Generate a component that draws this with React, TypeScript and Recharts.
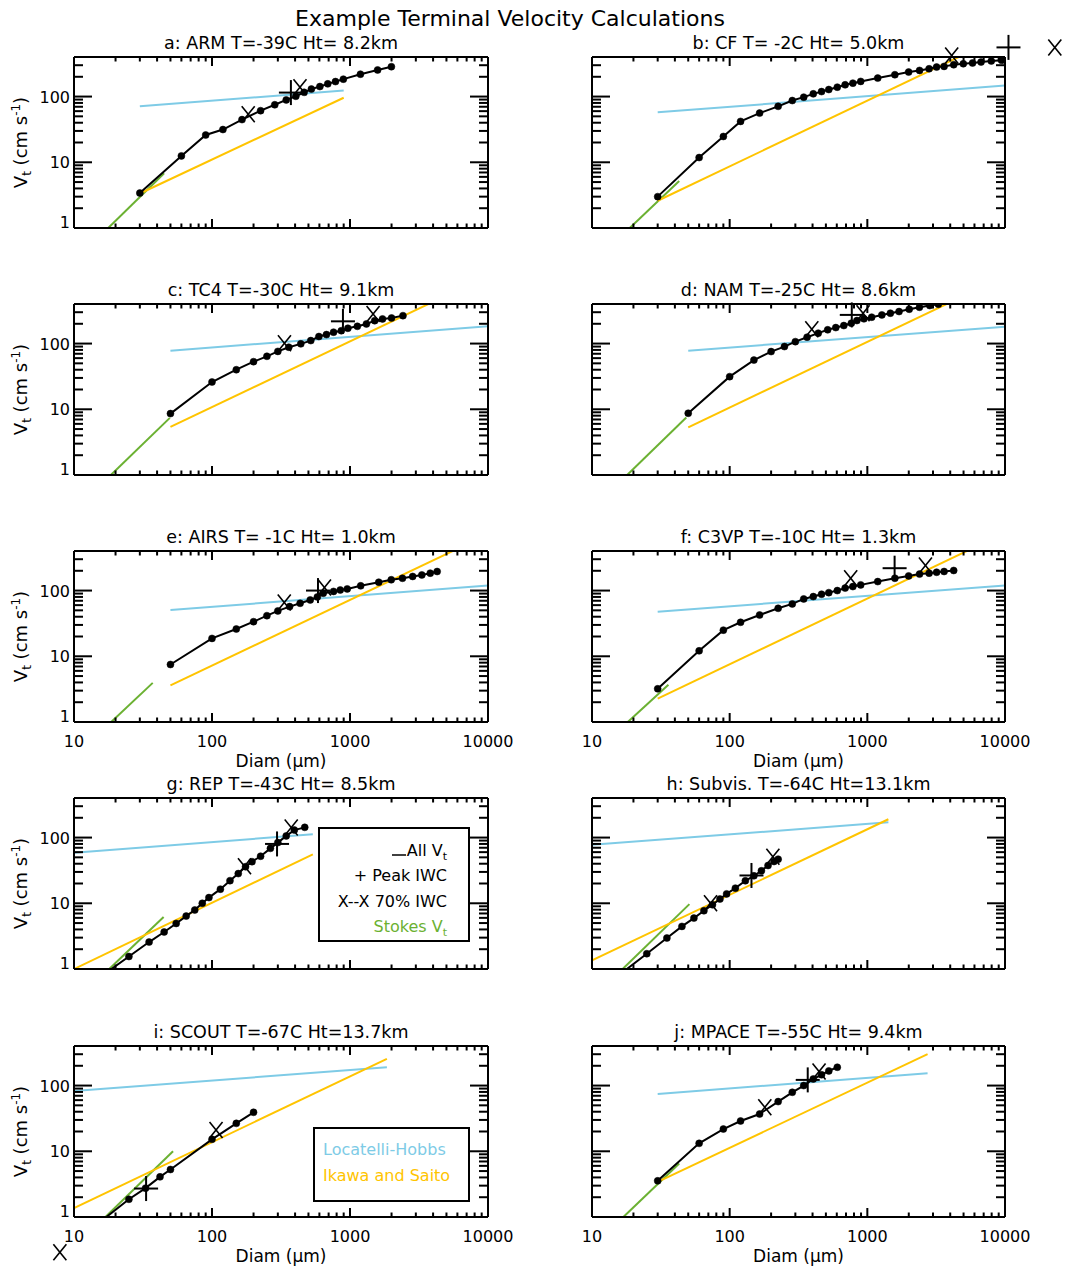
import React from "react";
import { LineChart, Line, XAxis, YAxis, ReferenceDot, Legend } from "recharts";

const FONT = "'DejaVu Sans', Verdana, sans-serif";
const BLUE = "#7ECBE6";
const GOLD = "#FFC400";
const GREEN = "#6BB132";

// axis ticks (log decades with minor ticks, IDL style)
const X_TICKS = [10, 20, 30, 40, 50, 60, 70, 80, 90, 100, 200, 300, 400, 500, 600, 700, 800, 900,
  1000, 2000, 3000, 4000, 5000, 6000, 7000, 8000, 9000, 10000];
const X_LABELS = [10, 100, 1000, 10000];
const Y_TICKS = [1, 2, 3, 4, 5, 6, 7, 8, 9, 10, 20, 30, 40, 50, 60, 70, 80, 90, 100, 200, 300];
const Y_LABELS = [1, 10, 100];

// a: ARM
const DIAM_A = [30, 60, 90, 120, 165, 225, 285, 345, 405, 465, 525, 605, 690, 785, 895, 1190, 1585, 1995];
const VT_A = [3.4, 12.5, 26, 31.5, 44.6, 61, 75, 89, 101, 116, 130, 142, 156, 169, 184, 219, 254, 285];
const LH_A = [[30, 71], [900, 124]];
const IS_A = [[30, 3.35], [900, 96]];
const ST_A = [[17.7, 1], [45, 6.8]];
const PEAK_A = [[373, 115]];
const X70_A = [[183, 54], [434, 139]];

// b: CF
const DIAM_B = [30, 60, 90, 120, 165, 225, 285, 345, 405, 465, 525, 605, 690, 785, 895, 1190, 1585, 1995,
  2395, 2810, 3185, 3610, 4240, 4980, 5810, 6700, 7950, 9440];
const VT_B = [3.0, 11.8, 24.7, 41.9, 56, 71, 87, 98, 110, 119, 128, 139, 151, 160, 170, 191, 215, 236,
  250, 265, 281, 288, 305, 316, 324, 335, 348, 356];
const LH_B = [[30, 57.5], [10000, 147]];
const IS_B = [[30, 2.6], [5000, 433]];
const ST_B = [[18.8, 1], [43, 5.2]];
const PEAK_B = [[10600, 560]];
const X70_B = [[4100, 420], [23000, 560]];

// c: TC4
const DIAM_C = [50, 100, 150, 200, 250, 300, 360, 440, 520, 595, 675, 760, 865, 965, 1130, 1315, 1510, 1720, 2000, 2420];
const VT_C = [8.6, 26, 40, 53, 64, 76, 88, 99, 111, 128, 137, 149, 157, 171, 183, 199, 223, 237, 245, 266];
const LH_C = [[50, 78], [10000, 183]];
const IS_C = [[50, 5.4], [4000, 432]];
const ST_C = [[18.5, 1], [49.5, 7.4]];
const PEAK_C = [[889, 218]];
const X70_C = [[335, 101], [1470, 281]];

// d: NAM
const DIAM_D = [50, 100, 150, 200, 250, 300, 365, 440, 515, 590, 675, 765, 840, 945, 1075, 1275, 1470, 1700,
  2015, 2390, 2840, 3280];
const VT_D = [8.7, 31.4, 56, 75.5, 90, 107, 125, 144, 162, 175, 188, 204, 224, 238, 252, 273, 290, 307,
  333, 357, 379, 397];
const LH_D = [[50, 78], [10000, 181]];
const IS_D = [[50, 5.3], [4000, 424]];
const ST_D = [[18, 1], [48.4, 7.5]];
const PEAK_D = [[771, 273]];
const X70_D = [[395, 165], [931, 290]];

// e: AIRS
const DIAM_E = [50, 100, 150, 200, 250, 300, 365, 435, 515, 580, 640, 760, 850, 955, 1195, 1615, 1990, 2400,
  2845, 3315, 3815, 4280];
const VT_E = [7.5, 18.7, 26, 33.6, 41.5, 49, 57, 64, 72, 80, 91, 97, 102, 106, 118, 134, 146, 154,
  164, 173, 184, 195];
const LH_E = [[50, 50.7], [10000, 119]];
const IS_E = [[50, 3.6], [6000, 432]];
const ST_E = [[18.6, 1], [37.2, 3.94]];
const PEAK_E = [[586, 100]];
const X70_E = [[334, 66], [653, 111]];

// f: C3VP
const DIAM_F = [30, 60, 90, 120, 165, 225, 285, 345, 405, 465, 525, 605, 690, 785, 895, 1190, 1585, 1995,
  2395, 2810, 3185, 3610, 4240];
const VT_F = [3.2, 12.1, 25, 32.9, 42.5, 53.7, 62.6, 74.6, 81, 88, 93, 100, 109, 115, 122, 137, 154, 167,
  178, 184, 190, 195, 202];
const LH_F = [[30, 47.8], [10000, 119]];
const IS_F = [[30, 2.27], [6000, 454]];
const ST_F = [[18.2, 1], [35.9, 3.7]];
const PEAK_F = [[1578, 219]];
const X70_F = [[757, 154], [2642, 241]];

// g: REP
const DIAM_G = [15, 25, 35, 45, 55, 65, 75, 85, 95, 115, 135, 155, 175, 195, 225, 265, 300, 345, 395, 470];
const VT_G = [0.72, 1.55, 2.57, 3.66, 4.93, 6.38, 7.9, 10, 12.2, 16.4, 22.1, 28.3, 36, 43, 52, 68.5, 83.8, 106, 130, 143];
const LH_G = [[10, 58.8], [538, 112]];
const IS_G = [[10, 1.0], [538, 55.4]];
const ST_G = [[18, 1], [44.6, 6.2]];
const PEAK_G = [[296, 80]];
const X70_G = [[172, 36.6], [375, 142]];

// h: Subvis.
const DIAM_H = [15, 25, 35, 45, 55, 65, 75, 85, 95, 110, 130, 150, 170, 190, 210, 225];
const VT_H = [0.75, 1.71, 2.96, 4.45, 5.95, 7.7, 9.5, 11.6, 13.9, 17, 22, 26.2, 31.2, 37.6, 43.2, 46.9];
const LH_H = [[10, 77.4], [1422, 171]];
const IS_H = [[10, 1.35], [1422, 190]];
const ST_H = [[16.7, 1], [51, 9.7]];
const PEAK_H = [[144, 26.5]];
const X70_H = [[72.6, 10], [206, 51]];

// i: SCOUT
const DIAM_I = [15, 25, 33, 42, 50, 100, 150, 200];
const VT_I = [0.8, 1.86, 2.75, 4.08, 5.28, 15.2, 26.6, 39.2];
const LH_I = [[10, 83], [1850, 190]];
const IS_I = [[10, 1.37], [1850, 255]];
const ST_I = [[16.9, 1], [52.2, 10]];
const PEAK_I = [[33.3, 2.71]];
const X70_I = [[107, 21], [7.9, 0.29]];

// j: MPACE
const DIAM_J = [30, 60, 90, 120, 165, 225, 285, 345, 405, 465, 525, 605];
const VT_J = [3.55, 13.2, 21.8, 28.9, 36.9, 57, 79, 100, 126, 146, 167, 190];
const LH_J = [[30, 74.6], [2740, 154]];
const IS_J = [[30, 3.42], [2740, 301]];
const ST_J = [[16.9, 1], [43, 6.5]];
const PEAK_J = [[369, 122]];
const X70_J = [[180, 46.7], [446, 164]];

const PANELS = [
  { title: "a: ARM T=-39C Ht= 8.2km", diam: DIAM_A, vt: VT_A, lh: LH_A, is: IS_A, st: ST_A, peak: PEAK_A, x70: X70_A },
  { title: "b: CF T= -2C Ht= 5.0km", diam: DIAM_B, vt: VT_B, lh: LH_B, is: IS_B, st: ST_B, peak: PEAK_B, x70: X70_B },
  { title: "c: TC4 T=-30C Ht= 9.1km", diam: DIAM_C, vt: VT_C, lh: LH_C, is: IS_C, st: ST_C, peak: PEAK_C, x70: X70_C },
  { title: "d: NAM T=-25C Ht= 8.6km", diam: DIAM_D, vt: VT_D, lh: LH_D, is: IS_D, st: ST_D, peak: PEAK_D, x70: X70_D },
  { title: "e: AIRS T= -1C Ht= 1.0km", diam: DIAM_E, vt: VT_E, lh: LH_E, is: IS_E, st: ST_E, peak: PEAK_E, x70: X70_E },
  { title: "f: C3VP T=-10C Ht= 1.3km", diam: DIAM_F, vt: VT_F, lh: LH_F, is: IS_F, st: ST_F, peak: PEAK_F, x70: X70_F },
  { title: "g: REP T=-43C Ht= 8.5km", diam: DIAM_G, vt: VT_G, lh: LH_G, is: IS_G, st: ST_G, peak: PEAK_G, x70: X70_G },
  { title: "h: Subvis. T=-64C Ht=13.1km", diam: DIAM_H, vt: VT_H, lh: LH_H, is: IS_H, st: ST_H, peak: PEAK_H, x70: X70_H },
  { title: "i: SCOUT T=-67C Ht=13.7km", diam: DIAM_I, vt: VT_I, lh: LH_I, is: IS_I, st: ST_I, peak: PEAK_I, x70: X70_I },
  { title: "j: MPACE T=-55C Ht= 9.4km", diam: DIAM_J, vt: VT_J, lh: LH_J, is: IS_J, st: ST_J, peak: PEAK_J, x70: X70_J },
];

// page layout of the plot boxes
const COL_X = [74, 592];
const COL_W = [414, 413];
const ROW_Y = [57, 304, 551, 798, 1046];
const PLOT_H = 171;
const M_TOP = 50;
const M_BOT = 62;
const CHART_W = 533;

const pairs = (xs: number[], ys: number[]) => xs.map((x, i) => ({ x, y: ys[i] }));
const seg = (pts: number[][]) => pts.map(([x, y]) => ({ x, y }));

const txt = { fontFamily: FONT, fill: "#000" };

const bottomTick = (labels: boolean) => (props: any) => {
  const { x, y, payload } = props;
  const major = X_LABELS.includes(payload.value);
  return (
    <g>
      <line x1={x} y1={y} x2={x} y2={y - (major ? 9 : 4.5)} stroke="#000" strokeWidth={2} />
      {labels && major ? (
        <text x={x} y={y + 25} textAnchor="middle" fontSize={16} {...txt}>{payload.value}</text>
      ) : null}
    </g>
  );
};

const topTick = (props: any) => {
  const { x, y, payload } = props;
  const major = X_LABELS.includes(payload.value);
  return <line x1={x} y1={y} x2={x} y2={y + (major ? 9 : 4.5)} stroke="#000" strokeWidth={2} />;
};

const leftTick = (labels: boolean) => (props: any) => {
  const { x, y, payload } = props;
  const major = Y_LABELS.includes(payload.value);
  return (
    <g>
      <line x1={x} y1={y} x2={x + (major ? 18 : 9)} y2={y} stroke="#000" strokeWidth={2} />
      {labels && major ? (
        <text x={x - 4} y={payload.value === 1 ? y - 0.5 : y + 6} textAnchor="end" fontSize={16} {...txt}>
          {payload.value}
        </text>
      ) : null}
    </g>
  );
};

const rightTick = (props: any) => {
  const { x, y, payload } = props;
  const major = Y_LABELS.includes(payload.value);
  return <line x1={x} y1={y} x2={x - (major ? 18 : 9)} y2={y} stroke="#000" strokeWidth={2} />;
};

const PlusMark = (props: any) => {
  const { cx, cy } = props;
  return (
    <g>
      <line x1={cx - 12} y1={cy} x2={cx + 12} y2={cy} stroke="#000" strokeWidth={2} />
      <line x1={cx} y1={cy - 12.5} x2={cx} y2={cy + 12.5} stroke="#000" strokeWidth={2} />
    </g>
  );
};

const CrossMark = (props: any) => {
  const { cx, cy } = props;
  return (
    <g>
      <line x1={cx - 6.5} y1={cy - 8} x2={cx + 6.5} y2={cy + 8} stroke="#000" strokeWidth={1.6} />
      <line x1={cx + 6.5} y1={cy - 8} x2={cx - 6.5} y2={cy + 8} stroke="#000" strokeWidth={1.6} />
    </g>
  );
};

function SymbolLegend() {
  return (
    <svg width={152} height={115} style={{ display: "block" }}>
      <rect x={1} y={1} width={150} height={113} fill="none" stroke="#000" strokeWidth={2} />
      <line x1={74} y1={28} x2={88} y2={28} stroke="#000" strokeWidth={1.5} />
      <text x={129} y={29} textAnchor="end" fontSize={16} {...txt}>
        All V<tspan fontSize={11} dy={4}>t</tspan>
      </text>
      <text x={129} y={54} textAnchor="end" fontSize={16} {...txt}>+ Peak IWC</text>
      <text x={129} y={79.5} textAnchor="end" fontSize={16} {...txt}>X--X 70% IWC</text>
      <text x={129} y={105} textAnchor="end" fontSize={16} fontFamily={FONT} fill={GREEN}>
        Stokes V<tspan fontSize={11} dy={4}>t</tspan>
      </text>
    </svg>
  );
}

function FitLegend() {
  return (
    <svg width={157} height={75} style={{ display: "block" }}>
      <rect x={1} y={1} width={155} height={73} fill="none" stroke="#000" strokeWidth={2} />
      <text x={10} y={28} fontSize={16} fontFamily={FONT} fill={BLUE}>Locatelli-Hobbs</text>
      <text x={10} y={54} fontSize={16} fontFamily={FONT} fill={GOLD}>Ikawa and Saito</text>
    </svg>
  );
}

function Panel({ idx }: { idx: number }) {
  const p = PANELS[idx];
  const col = idx % 2;
  const row = Math.floor(idx / 2);
  const left = col * CHART_W;
  const top = ROW_Y[row] - M_TOP;
  const mLeft = COL_X[col] - left;
  const mRight = CHART_W - mLeft - COL_W[col];
  const height = M_TOP + PLOT_H + M_BOT;
  const cx = mLeft + COL_W[col] / 2;
  const yLabels = col === 0;
  const xLabels = row === 2 || row === 4;

  const titleLabel = () => (
    <text x={cx} y={M_TOP - 8} textAnchor="middle" fontSize={17.5} style={{ whiteSpace: "pre" }} {...txt}>
      {p.title}
    </text>
  );
  const xTitle = () =>
    xLabels ? (
      <text x={cx} y={M_TOP + PLOT_H + 45} textAnchor="middle" fontSize={17} {...txt}>
        Diam (μm)
      </text>
    ) : null;
  const yTitle = () => {
    if (!yLabels) return null;
    const yc = M_TOP + PLOT_H / 2;
    return (
      <text x={27} y={yc} transform={`rotate(-90 27 ${yc})`} textAnchor="middle" fontSize={18} {...txt}>
        V<tspan fontSize={12} dy={4}>t</tspan>
        <tspan dy={-4}> (cm s</tspan>
        <tspan fontSize={12} dy={-7}>-1</tspan>
        <tspan dy={7}>)</tspan>
      </text>
    );
  };

  const axisLine = { stroke: "#000", strokeWidth: 2 };

  // axes get a 1px band (recharts skips zero-size axes), taken out of the margins
  return (
    <div style={{ position: "absolute", left, top }}>
      <LineChart width={CHART_W} height={height}
        margin={{ top: M_TOP - 1, right: mRight - 1, bottom: M_BOT - 1, left: mLeft - 1 }}>
        <XAxis xAxisId="b" type="number" dataKey="x" scale="log" domain={[10, 10000]} allowDataOverflow
          ticks={X_TICKS} interval={0} height={1} tickSize={0} tickMargin={0} tickLine={false}
          axisLine={axisLine} tick={bottomTick(xLabels)} label={xTitle} />
        <XAxis xAxisId="t" orientation="top" type="number" dataKey="x" scale="log" domain={[10, 10000]} allowDataOverflow
          ticks={X_TICKS} interval={0} height={1} tickSize={0} tickMargin={0} tickLine={false}
          axisLine={axisLine} tick={topTick} label={titleLabel} />
        <YAxis yAxisId="l" type="number" scale="log" domain={[1, 400]} allowDataOverflow
          ticks={Y_TICKS} interval={0} width={1} tickSize={0} tickMargin={0} tickLine={false}
          axisLine={axisLine} tick={leftTick(yLabels)} label={yTitle} />
        <YAxis yAxisId="r" orientation="right" type="number" scale="log" domain={[1, 400]} allowDataOverflow
          ticks={Y_TICKS} interval={0} width={1} tickSize={0} tickMargin={0} tickLine={false}
          axisLine={axisLine} tick={rightTick} />
        <Line xAxisId="b" yAxisId="l" data={seg(p.st)} dataKey="y" stroke={GREEN} strokeWidth={2}
          dot={false} isAnimationActive={false} />
        <Line xAxisId="b" yAxisId="l" data={seg(p.lh)} dataKey="y" stroke={BLUE} strokeWidth={2}
          dot={false} isAnimationActive={false} />
        <Line xAxisId="b" yAxisId="l" data={seg(p.is)} dataKey="y" stroke={GOLD} strokeWidth={2}
          dot={false} isAnimationActive={false} />
        <Line xAxisId="b" yAxisId="l" data={pairs(p.diam, p.vt)} dataKey="y" stroke="#000" strokeWidth={2}
          dot={{ r: 3.5, fill: "#000", stroke: "#000", strokeWidth: 0.5 }} isAnimationActive={false} />
        {p.peak.map(([x, y], k) => (
          <ReferenceDot key={`p${k}`} xAxisId="b" yAxisId="l" x={x} y={y} r={1} ifOverflow="visible" shape={PlusMark} />
        ))}
        {p.x70.map(([x, y], k) => (
          <ReferenceDot key={`x${k}`} xAxisId="b" yAxisId="l" x={x} y={y} r={1} ifOverflow="visible" shape={CrossMark} />
        ))}
        {idx === 6 ? (
          <Legend layout="vertical" align="center" verticalAlign="middle"
            wrapperStyle={{ left: 318 - left, top: 827 - top, width: 152, height: 115 }}
            content={() => <SymbolLegend />} />
        ) : null}
        {idx === 8 ? (
          <Legend layout="vertical" align="center" verticalAlign="middle"
            wrapperStyle={{ left: 313 - left, top: 1127 - top, width: 157, height: 75 }}
            content={() => <FitLegend />} />
        ) : null}
      </LineChart>
    </div>
  );
}

export default function App() {
  return (
    <div style={{ position: "absolute", left: 0, top: 0, width: 1066, height: 1266, overflow: "hidden", background: "#fff" }}>
      <svg width={1066} height={40} style={{ position: "absolute", left: 0, top: 0 }}>
        <text x={510} y={26} textAnchor="middle" fontSize={22} {...txt}>
          Example Terminal Velocity Calculations
        </text>
      </svg>
      {PANELS.map((_, i) => (
        <Panel key={i} idx={i} />
      ))}
    </div>
  );
}
